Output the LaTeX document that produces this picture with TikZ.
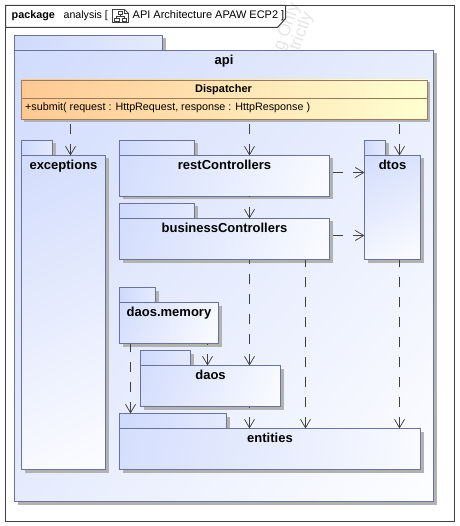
\documentclass[tikz,border=0pt]{standalone}
\usepackage{fontspec}
\setmainfont{Liberation Sans}
\usetikzlibrary{arrows.meta}
\definecolor{pkgline}{HTML}{69739C}
\definecolor{frameline}{HTML}{404040}
\definecolor{shadowc}{HTML}{B2B2B2}
\definecolor{pblue}{HTML}{CFDAFC}
\definecolor{displine}{HTML}{9A7B5E}
\definecolor{orangeL}{HTML}{FFC993}
\definecolor{yellowR}{HTML}{FFFFD2}
\definecolor{wm}{HTML}{E6E6E6}
\pgfdeclareverticalshading{pkgshade}{100bp}{color(0bp)=(white);color(12bp)=(white);color(88bp)=(pblue);color(100bp)=(pblue)}
\tikzset{
  x=1pt,y=-1pt,
  pkgtab/.style={draw=pkgline,line width=0.9pt,left color=pblue,right color=pblue!55!white},
  pkgbody/.style={draw=pkgline,line width=0.9pt,rectangle,inner sep=0pt,outer sep=0pt,anchor=north west,shade,shading=pkgshade,shading angle=#1},
  pkgbody/.default=60,
  pkgname/.style={font=\fontsize{13}{15}\selectfont\bfseries,inner sep=0pt,anchor=base,text=black},
  dep/.style={draw=frameline,line width=0.75pt,dash pattern=on 10pt off 10pt,{Straight Barb[length=8.5pt,width=10pt,line width=0.75pt]}-},
  title/.style={inner sep=0pt,anchor=base west,text=black},
  disptext/.style={inner sep=0pt,text=black},
  wmark/.style={font=\fontsize{17}{19}\selectfont,text=wm,inner sep=0pt,rotate=70,anchor=base west},
}
% name, left, tab top, tab right, body top, right, bottom, label, shading angle
\newcommand\pkg[9]{%
  \fill[shadowc] (#2+3,#3+3) rectangle (#4+3,#5+3);
  \fill[shadowc] (#2+3,#5+3) rectangle (#6+3,#7+3);
  \draw[pkgtab] (#2,#3) rectangle (#4,#5);
  \node[pkgbody=#9,minimum width={(#6-#2)*1pt},minimum height={(#7-#5)*1pt}] (#1) at (#2,#5) {};
  \node[pkgname] (#1-name) at ([yshift=-14.3pt]#1.north) {#8};
}
\begin{document}
\begin{tikzpicture}
\useasboundingbox (0,0) rectangle (459,526);
\fill[white] (0,0) rectangle (459,526);
% watermark
\node[wmark] (wmA) at (283,52) {g Only};
\node[wmark] (wmB) at (299,52) {trictly};
% frame
\draw[frameline,line width=1pt] (5.5,5.5) rectangle (454.5,521.5);
\draw[frameline,line width=1pt,fill=white] (5.5,5.5) -- (285.5,5.5) -- (285.5,18.5) -- (277.5,27.5) -- (5.5,27.5) -- cycle;
\node[title,font=\fontsize{10.8}{13}\selectfont\bfseries] (t1) at (11.5,18.3) {package};
\node[title,font=\fontsize{10.6}{13}\selectfont] (t2) at (63.5,18.3) {analysis [};
\node[title,font=\fontsize{11}{13}\selectfont] (t3) at (132.5,18.3) {API Architecture APAW ECP2 ]};
% diagram icon
\begin{scope}[frameline,line width=0.7pt]
  \draw (112.5,9.5) -- (124.5,9.5) -- (128.5,13.5) -- (128.5,22.5) -- (112.5,22.5) -- cycle;
  \draw (124.5,9.5) -- (124.5,13.5) -- (128.5,13.5);
  \draw (118,11.5) rectangle (122.5,14.5);
  \draw (114.5,18) rectangle (119,21);
  \draw (122,18) rectangle (126.5,21);
  \draw (120,14.5) -- (120,16.3) -- (116.7,16.3) -- (116.7,18);
  \draw (120,16.3) -- (124.2,16.3) -- (124.2,18);
\end{scope}
% api
\pkg{api}{14.5}{35.5}{162.5}{50.5}{433.5}{501.5}{api}{50}
% dispatcher
\fill[shadowc] (24,82.5) rectangle (430,122);
\node[draw=displine,line width=0.9pt,rectangle,inner sep=0pt,outer sep=0pt,anchor=north west,minimum width=406pt,minimum height=39pt,left color=orangeL,right color=yellowR] (disp) at (21.5,80) {};
\draw[displine,line width=0.9pt] (21.5,98.5) -- (disp.east |- 0,98.5);
\node[disptext,font=\fontsize{11}{13}\selectfont\bfseries,anchor=base] (dispname) at (223.5,92.7) {Dispatcher};
\node[disptext,font=\fontsize{10.75}{13}\selectfont,anchor=base west] (dispop) at (25,110.7) {+submit( request : HttpRequest, response : HttpResponse )};
% packages
\pkg{exc}{21.5}{140.5}{52.5}{155.5}{105.5}{469.5}{exceptions}{25}
\pkg{rest}{119.5}{140.5}{194.5}{155.5}{329.5}{196.5}{restControllers}{70}
\pkg{bus}{119.5}{203.5}{194.5}{218.5}{329.5}{259.5}{businessControllers}{70}
\pkg{dtos}{364.5}{140.5}{385.5}{155.5}{420.5}{259.5}{dtos}{25}
\pkg{mem}{119.5}{287.5}{155.5}{302.5}{218.5}{343.5}{daos.memory}{70}
\pkg{daos}{140.5}{350.5}{190.5}{365.5}{280.5}{406.5}{daos}{70}
\pkg{ent}{119.5}{413.5}{226.5}{428.5}{420.5}{469.5}{entities}{80}
% connector columns and rows
\coordinate (xa) at (70.5,0);
\coordinate (xb) at (249.5,0);
\coordinate (xc) at (399.5,0);
\coordinate (xd) at (305.5,0);
\coordinate (xe) at (207.5,0);
\coordinate (xf) at (130.5,0);
\coordinate (ya) at (0,172.5);
\coordinate (yb) at (0,235.5);
\coordinate (enttab) at (0,413.5);
% connectors, each drawn from its arrowhead back to its source
\draw[dep] (exc.north -| xa) -- (disp.south -| xa);
\draw[dep] (rest.north -| xb) -- (disp.south -| xb);
\draw[dep] (dtos.north -| xc) -- (disp.south -| xc);
\draw[dep] (bus.north -| xb) -- (rest.south -| xb);
\draw[dep] (dtos.west |- ya) -- (rest.east |- ya);
\draw[dep] (dtos.west |- yb) -- (bus.east |- yb);
\draw[dep] (daos.north -| xb) -- (bus.south -| xb);
\draw[dep] (ent.north -| xd) -- (bus.south -| xd);
\draw[dep] (ent.north -| xb) -- (daos.south -| xb);
\draw[dep] (ent.north -| xc) -- (dtos.south -| xc);
\draw[dep] (daos.north -| xe) -- (mem.south -| xe);
\draw[dep] (xf |- enttab) -- (mem.south -| xf);
\end{tikzpicture}
\end{document}
